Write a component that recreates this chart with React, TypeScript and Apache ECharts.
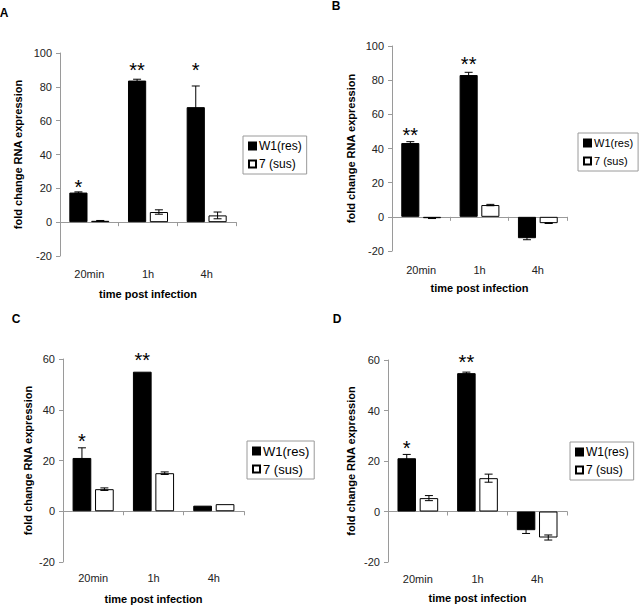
import React, { useEffect, useRef } from "react";
import * as echarts from "echarts";

const categories = ["20min", "1h", "4h"];
const seriesNames = ["W1(res)", "7 (sus)"];
const panelLabels = ["A", "B", "C", "D"];
const yMaxes = [100, 100, 60, 60];

// Panel A
const w1A = [17.5, 83.7, 68.0];
const w1ErrA = [0.4, 0.8, 12.5];
const susA = [0.8, 6.0, 4.0];
const susErrA = [0.2, 1.3, 2.0];
const starsA = ["*", "**", "*"];
const starYA = [23.3, 92.3, 92.3];

// Panel B
const w1B = [43.2, 83.0, -12.5];
const w1ErrB = [0.8, 1.6, 0.9];
const susB = [-0.8, 6.9, -3.7];
const susErrB = [0.2, 0.4, 0.2];
const starsB = ["**", "**", ""];
const starYB = [50.6, 92.0, 0];

// Panel C
const w1C = [21.0, 55.0, 2.2];
const w1ErrC = [4.0, 0, 0];
const susC = [8.7, 15.0, 2.8];
const susErrC = [0.5, 0.5, 0];
const starsC = ["*", "**", ""];
const starYC = [29.3, 61.4, 0];

// Panel D
const w1D = [21.1, 54.8, -7.4];
const w1ErrD = [1.5, 0.4, 1.3];
const susD = [5.3, 13.2, -10.3];
const susErrD = [1.0, 1.6, 1.0];
const starsD = ["*", "**", ""];
const starYD = [27.0, 61.0, 0];

const panels = [
  { w1: w1A, w1Err: w1ErrA, sus: susA, susErr: susErrA, stars: starsA, starY: starYA },
  { w1: w1B, w1Err: w1ErrB, sus: susB, susErr: susErrB, stars: starsB, starY: starYB },
  { w1: w1C, w1Err: w1ErrC, sus: susC, susErr: susErrC, stars: starsC, starY: starYC },
  { w1: w1D, w1Err: w1ErrD, sus: susD, susErr: susErrD, stars: starsD, starY: starYD },
];

// layout (pixels)
const grids = [
  { left: 60, top: 53, width: 176, height: 203 },
  { left: 392, top: 46, width: 175, height: 205 },
  { left: 63, top: 359, width: 181, height: 203 },
  { left: 388, top: 360, width: 179, height: 202 },
];
const yNameGaps = [37, 36, 30, 32];
const xLabelMargins = [12, 13, 10, 11];
const xNameGaps = [32, 31, 31, 30];
const legendPos = [
  { left: 243, top: 136 },
  { left: 578, top: 133 },
  { left: 247, top: 441 },
  { left: 570, top: 442 },
];
const legendFontSizes = [12, 11, 13, 12];
const panelLabelPos = [
  { x: 4, y: 13 },
  { x: 336, y: 6 },
  { x: 16, y: 319 },
  { x: 337, y: 319 },
];

const FONT = "'Liberation Sans', Arial, Helvetica, sans-serif";
const AXIS_COLOR = "#9a9a9a";
const BAR_W = 0.31;
const BAR_GAP = 0.2;
const OFFSET = (BAR_W + BAR_GAP * BAR_W) / 2; // fraction of band from center

const starsBySeries: Record<number, string[]> = {};

function errorRender(side: number) {
  return (params: any, api: any) => {
    const x = api.value(0);
    const v = api.value(1);
    const e = api.value(2);
    if (!e) return null;
    const bw = api.size([1, 0])[0];
    const c = api.coord([x, v]);
    const cx = c[0] + side * OFFSET * bw;
    const yt = api.coord([x, v + e])[1];
    const yb = api.coord([x, v - e])[1];
    const cap = 4;
    const st = { stroke: "#000", lineWidth: 1 };
    return {
      type: "group",
      children: [
        { type: "line", shape: { x1: cx, y1: yt, x2: cx, y2: yb }, style: st },
        { type: "line", shape: { x1: cx - cap, y1: yt, x2: cx + cap, y2: yt }, style: st },
        { type: "line", shape: { x1: cx - cap, y1: yb, x2: cx + cap, y2: yb }, style: st },
      ],
    };
  };
}

function starRender(params: any, api: any) {
  const x = api.value(0);
  const y = api.value(1);
  const label = starsBySeries[params.seriesIndex]?.[params.dataIndex];
  if (!label) return null;
  const bw = api.size([1, 0])[0];
  const c = api.coord([x, y]);
  const fs = 20;
  return {
    type: "text",
    x: c[0] - OFFSET * bw,
    y: c[1] + fs * 0.22,
    style: {
      text: label,
      fill: "#000",
      font: `${fs}px ${FONT}`,
      align: "center",
      verticalAlign: "middle",
    },
  };
}

function buildOption() {
  const xAxis: any[] = [];
  const yAxis: any[] = [];
  const series: any[] = [];
  const legend: any[] = [];
  const graphic: any[] = [];

  panels.forEach((p, i) => {
    xAxis.push({
      type: "category",
      gridIndex: i,
      data: categories,
      axisLine: { show: true, onZero: true, lineStyle: { color: AXIS_COLOR, width: 1 } },
      axisTick: { show: true, length: 4, lineStyle: { color: AXIS_COLOR } },
      axisLabel: { show: false },
      splitLine: { show: false },
    });
    xAxis.push({
      type: "category",
      gridIndex: i,
      data: categories,
      position: "bottom",
      axisLine: { show: false, onZero: false },
      axisTick: { show: false },
      axisLabel: { show: true, margin: xLabelMargins[i], fontSize: 11, color: "#222", fontFamily: FONT },
      splitLine: { show: false },
      name: "time post infection",
      nameLocation: "middle",
      nameGap: xNameGaps[i],
      nameTextStyle: { fontSize: 11, fontWeight: "bold", color: "#000", fontFamily: FONT },
    });
    yAxis.push({
      type: "value",
      gridIndex: i,
      min: -20,
      max: yMaxes[i],
      interval: 20,
      axisLine: { show: true, lineStyle: { color: AXIS_COLOR, width: 1 } },
      axisTick: { show: true, length: 4, lineStyle: { color: AXIS_COLOR } },
      axisLabel: { margin: 8, fontSize: 11, color: "#222", fontFamily: FONT },
      splitLine: { show: false },
      name: "fold change RNA expression",
      nameLocation: "middle",
      nameRotate: 90,
      nameGap: yNameGaps[i],
      nameTextStyle: { fontSize: 11, fontWeight: "bold", color: "#000", fontFamily: FONT },
    });

    const xi = i * 2;
    series.push({
      type: "bar",
      name: seriesNames[0],
      xAxisIndex: xi,
      yAxisIndex: i,
      data: p.w1,
      barWidth: `${BAR_W * 100}%`,
      barGap: `${BAR_GAP * 100}%`,
      itemStyle: { color: "#000", borderColor: "#000", borderWidth: 1 },
      z: 2,
    });
    series.push({
      type: "bar",
      name: seriesNames[1],
      xAxisIndex: xi,
      yAxisIndex: i,
      data: p.sus,
      barWidth: `${BAR_W * 100}%`,
      barGap: `${BAR_GAP * 100}%`,
      itemStyle: { color: "#fff", borderColor: "#000", borderWidth: 1 },
      z: 2,
    });
    series.push({
      type: "custom",
      xAxisIndex: xi,
      yAxisIndex: i,
      renderItem: errorRender(-1),
      data: p.w1.map((v, k) => [k, v, p.w1Err[k]]),
      z: 5,
      silent: true,
    });
    series.push({
      type: "custom",
      xAxisIndex: xi,
      yAxisIndex: i,
      renderItem: errorRender(1),
      data: p.sus.map((v, k) => [k, v, p.susErr[k]]),
      z: 5,
      silent: true,
    });
    starsBySeries[series.length] = p.stars;
    series.push({
      type: "custom",
      xAxisIndex: xi,
      yAxisIndex: i,
      renderItem: starRender,
      data: p.starY.map((v, k) => [k, v]),
      z: 6,
      silent: true,
      clip: false,
    });

    legend.push({
      ...legendPos[i],
      orient: "vertical",
      data: seriesNames,
      icon: "rect",
      itemWidth: 7,
      itemHeight: 7,
      itemGap: 4,
      padding: [3, 5, 3, 5],
      borderColor: AXIS_COLOR,
      borderWidth: 1,
      selectedMode: false,
      textStyle: {
        fontSize: legendFontSizes[i],
        lineHeight: 14,
        color: "#000",
        fontFamily: FONT,
        padding: [0, 0, 0, -2],
      },
    });

    graphic.push({
      type: "text",
      x: panelLabelPos[i].x,
      y: panelLabelPos[i].y,
      style: {
        text: panelLabels[i],
        font: `bold 12px ${FONT}`,
        fill: "#000",
        align: "center",
        verticalAlign: "middle",
      },
    });
  });

  return {
    animation: false,
    backgroundColor: "#fff",
    grid: grids,
    xAxis,
    yAxis,
    series,
    legend,
    graphic,
  };
}

export default function App() {
  const ref = useRef<HTMLDivElement>(null);
  useEffect(() => {
    document.body.style.margin = "0";
    if (!ref.current) return;
    const chart = echarts.init(ref.current, undefined, { renderer: "svg" });
    chart.setOption(buildOption() as any);
    return () => chart.dispose();
  }, []);
  return <div ref={ref} style={{ width: 640, height: 606 }} />;
}
